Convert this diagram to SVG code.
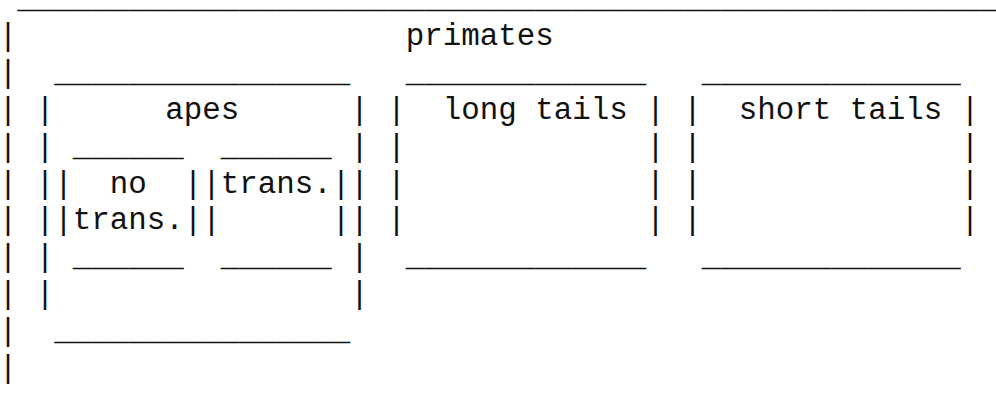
<svg xmlns="http://www.w3.org/2000/svg" width="996" height="413" viewBox="0 0 996 413">
<style>
text{font-family:"Liberation Mono","DejaVu Sans Mono",monospace;font-size:30.83px;fill:#111}
</style>
<rect width="996" height="413" fill="#fff"/>
<g id="primates">
<text x="17.2" y="8">_____________________________________________________</text>
<text x="405.7" y="44.9">primates</text>
<text><tspan x="-1.3" y="44.9">|</tspan><tspan x="-1.3" y="81.8">|</tspan><tspan x="-1.3" y="118.7">|</tspan><tspan x="-1.3" y="155.6">|</tspan><tspan x="-1.3" y="192.5">|</tspan><tspan x="-1.3" y="229.4">|</tspan><tspan x="-1.3" y="266.3">|</tspan><tspan x="-1.3" y="303.2">|</tspan><tspan x="-1.3" y="340.1">|</tspan><tspan x="-1.3" y="377">|</tspan></text>
</g>
<g id="apes">
<text x="54.2" y="81.8">________________</text>
<text x="165.2" y="118.7">apes</text>
<text><tspan x="35.7" y="118.7">|</tspan><tspan x="35.7" y="155.6">|</tspan><tspan x="35.7" y="192.5">|</tspan><tspan x="35.7" y="229.4">|</tspan><tspan x="35.7" y="266.3">|</tspan><tspan x="35.7" y="303.2">|</tspan></text>
<text><tspan x="350.2" y="118.7">|</tspan><tspan x="350.2" y="155.6">|</tspan><tspan x="350.2" y="192.5">|</tspan><tspan x="350.2" y="229.4">|</tspan><tspan x="350.2" y="266.3">|</tspan><tspan x="350.2" y="303.2">|</tspan></text>
<text x="54.2" y="340.1">________________</text>
</g>
<g id="no-trans">
<text x="72.7" y="155.6">______</text>
<text x="109.7" y="192.5">no</text>
<text x="72.7" y="229.4">trans.</text>
<text><tspan x="54.2" y="192.5">|</tspan><tspan x="54.2" y="229.4">|</tspan><tspan x="183.7" y="192.5">|</tspan><tspan x="183.7" y="229.4">|</tspan></text>
<text x="72.7" y="266.3">______</text>
</g>
<g id="trans">
<text x="220.7" y="155.6">______</text>
<text x="220.7" y="192.5">trans.</text>
<text><tspan x="202.2" y="192.5">|</tspan><tspan x="202.2" y="229.4">|</tspan><tspan x="331.7" y="192.5">|</tspan><tspan x="331.7" y="229.4">|</tspan></text>
<text x="220.7" y="266.3">______</text>
</g>
<g id="long-tails">
<text x="405.7" y="81.8">_____________</text>
<text x="442.7" y="118.7">long tails</text>
<text><tspan x="387.2" y="118.7">|</tspan><tspan x="387.2" y="155.6">|</tspan><tspan x="387.2" y="192.5">|</tspan><tspan x="387.2" y="229.4">|</tspan><tspan x="646.2" y="118.7">|</tspan><tspan x="646.2" y="155.6">|</tspan><tspan x="646.2" y="192.5">|</tspan><tspan x="646.2" y="229.4">|</tspan></text>
<text x="405.7" y="266.3">_____________</text>
</g>
<g id="short-tails">
<text x="701.7" y="81.8">______________</text>
<text x="738.7" y="118.7">short tails</text>
<text><tspan x="683.2" y="118.7">|</tspan><tspan x="683.2" y="155.6">|</tspan><tspan x="683.2" y="192.5">|</tspan><tspan x="683.2" y="229.4">|</tspan><tspan x="960.7" y="118.7">|</tspan><tspan x="960.7" y="155.6">|</tspan><tspan x="960.7" y="192.5">|</tspan><tspan x="960.7" y="229.4">|</tspan></text>
<text x="701.7" y="266.3">______________</text>
</g>
<g id="connectors"/>
</svg>
